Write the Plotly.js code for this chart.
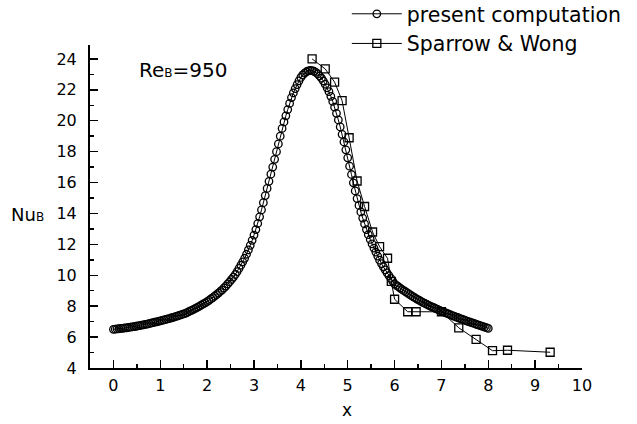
<!DOCTYPE html>
<html>
<head>
<meta charset="utf-8">
<script src="https://cdn.plot.ly/plotly-3.0.1.min.js"></script>
<style>html,body{margin:0;padding:0;background:#fff}#chart{width:637px;height:424px}</style>
</head>
<body>
<div id="chart"></div>
<script>
// present computation (circles)
var compX = [0.00,0.04,0.08,0.12,0.16,0.20,0.24,0.28,0.32,0.36,0.40,0.44,0.48,0.52,0.56,0.60,0.64,0.68,0.72,0.76,0.80,0.84,0.88,0.92,0.96,
1.00,1.04,1.08,1.12,1.16,1.20,1.24,1.28,1.32,1.36,1.40,1.44,1.48,1.52,1.56,1.60,1.64,1.68,1.72,1.76,1.80,1.84,1.88,1.92,1.96,
2.00,2.04,2.08,2.12,2.16,2.20,2.24,2.28,2.32,2.36,2.40,2.44,2.48,2.52,2.56,2.60,2.64,2.68,2.72,2.76,2.80,2.84,2.88,2.92,2.96,
3.00,3.04,3.08,3.12,3.16,3.20,3.24,3.28,3.32,3.36,3.40,3.44,3.48,3.52,3.56,3.60,3.64,3.68,3.72,3.76,3.80,3.84,3.88,3.92,3.96,
4.00,4.04,4.08,4.12,4.16,4.20,4.24,4.28,4.32,4.36,4.40,4.44,4.48,4.52,4.56,4.60,4.64,4.68,4.72,4.76,4.80,4.84,4.88,4.92,4.96,
5.00,5.04,5.08,5.12,5.16,5.20,5.24,5.28,5.32,5.36,5.40,5.44,5.48,5.52,5.56,5.60,5.64,5.68,5.72,5.76,5.80,5.84,5.88,5.92,5.96,
6.00,6.04,6.08,6.12,6.16,6.20,6.24,6.28,6.32,6.36,6.40,6.44,6.48,6.52,6.56,6.60,6.64,6.68,6.72,6.76,6.80,6.84,6.88,6.92,6.96,
7.00,7.04,7.08,7.12,7.16,7.20,7.24,7.28,7.32,7.36,7.40,7.44,7.48,7.52,7.56,7.60,7.64,7.68,7.72,7.76,7.80,7.84,7.88,7.92,7.96,
8.00];
var compNu = [6.50,6.51,6.53,6.54,6.56,6.57,6.59,6.60,6.62,6.64,6.66,6.68,6.70,6.72,6.74,6.77,6.79,6.82,6.84,6.87,6.90,6.93,6.96,6.99,7.02,
7.05,7.08,7.11,7.14,7.18,7.21,7.25,7.28,7.32,7.36,7.40,7.44,7.48,7.52,7.57,7.63,7.69,7.75,7.81,7.88,7.94,8.01,8.08,8.15,8.22,
8.30,8.38,8.47,8.56,8.65,8.75,8.85,8.95,9.06,9.18,9.30,9.44,9.58,9.73,9.88,10.05,10.24,10.44,10.65,10.87,11.10,11.36,11.64,11.94,12.26,
12.60,12.96,13.35,13.78,14.23,14.70,15.16,15.62,16.08,16.54,17.00,17.50,18.00,18.50,19.00,19.50,19.92,20.32,20.72,21.12,21.50,21.80,22.08,22.34,22.58,
22.80,22.96,23.08,23.17,23.23,23.25,23.24,23.20,23.13,23.03,22.90,22.75,22.57,22.36,22.13,21.88,21.58,21.25,20.88,20.48,20.05,19.60,19.12,18.63,18.12,
17.60,17.06,16.52,15.98,15.46,14.96,14.52,14.10,13.70,13.32,12.96,12.63,12.32,12.03,11.76,11.50,11.24,10.98,10.76,10.55,10.35,10.16,9.98,9.80,9.62,
9.45,9.35,9.26,9.17,9.08,9.00,8.92,8.84,8.76,8.68,8.60,8.53,8.46,8.39,8.32,8.25,8.19,8.13,8.07,8.01,7.95,7.90,7.84,7.79,7.73,
7.68,7.63,7.58,7.53,7.48,7.43,7.38,7.34,7.29,7.25,7.20,7.16,7.11,7.07,7.02,6.98,6.94,6.90,6.85,6.81,6.77,6.73,6.69,6.65,6.61,
6.57];

// Sparrow & Wong (squares)
var swX  = [4.24, 4.52, 4.72, 4.88, 5.03, 5.20, 5.36, 5.53, 5.68, 5.85, 5.93, 6.00, 6.28, 6.46, 7.00, 7.37, 7.74, 8.09, 8.41, 9.32];
var swNu = [24.00, 23.35, 22.50, 21.30, 18.90, 16.10, 14.45, 12.80, 11.85, 11.10, 9.60, 8.45, 7.64, 7.64, 7.64, 6.60, 5.85, 5.12, 5.15, 5.02];

var xTicks = [0,1,2,3,4,5,6,7,8,9,10];
var yTicks = [4,6,8,10,12,14,16,18,20,22,24];

var FONT = "DejaVu Sans, sans-serif";

var traces = [
  {x: compX, y: compNu, name: "present computation", type: "scatter", mode: "lines+markers",
   line: {color: "#000", width: 1},
   marker: {symbol: "circle-open", size: 7.5, color: "#000", line: {width: 1.3, color: "#000"}}},
  {x: swX, y: swNu, name: "Sparrow &amp; Wong", type: "scatter", mode: "lines+markers",
   line: {color: "#000", width: 1},
   marker: {symbol: "square-open", size: 8, color: "#000", line: {width: 1.3, color: "#000"}}}
];

var layout = {
  width: 637, height: 424,
  margin: {l: 90, r: 55, t: 45, b: 56, autoexpand: false},
  paper_bgcolor: "#fff", plot_bgcolor: "#fff",
  font: {family: FONT, color: "#000", size: 16},
  showlegend: true,
  legend: {xref: "paper", yref: "paper", x: 0.522, xanchor: "left", y: 1.158, yanchor: "top",
           bgcolor: "rgba(0,0,0,0)",
           font: {family: FONT, size: 20.5, color: "#000"}, tracegroupgap: 0, itemwidth: 50},
  xaxis: {range: [-0.5, 10], tickvals: xTicks, ticktext: xTicks.map(String), ticks: "inside", ticklen: 8,
          tickwidth: 1.5, tickcolor: "#000", showline: true, linecolor: "#000", linewidth: 2,
          showgrid: false, zeroline: false, ticklabelstandoff: 2,
          minor: {dtick: 0.5, ticks: "inside", ticklen: 4, tickwidth: 1.5, tickcolor: "#000", showgrid: false},
          tickfont: {family: FONT, size: 16}},
  yaxis: {range: [4, 24.9], tickvals: yTicks, ticktext: yTicks.map(String), ticks: "inside", ticklen: 8,
          tickwidth: 1.5, tickcolor: "#000", showline: true, linecolor: "#000", linewidth: 2,
          showgrid: false, zeroline: false, ticklabelstandoff: 8,
          minor: {dtick: 1, ticks: "inside", ticklen: 4, tickwidth: 1.5, tickcolor: "#000", showgrid: false},
          tickfont: {family: FONT, size: 16}},
  annotations: [
    {x: 0.5, y: 23.3, xref: "x", yref: "y", xanchor: "left", yanchor: "middle", showarrow: false,
     text: 'Re<span style="font-size:12px">B</span>=950', font: {family: FONT, size: 20}},
    {x: -0.165, y: 0.475, xref: "paper", yref: "paper", xanchor: "left", yanchor: "middle", showarrow: false,
     text: 'Nu<span style="font-size:12px">B</span>', font: {family: FONT, size: 18}},
    {x: 0.522, y: -0.13, xref: "paper", yref: "paper", xanchor: "center", yanchor: "middle", showarrow: false,
     text: 'x', font: {family: FONT, size: 17}}
  ]
};

Plotly.newPlot("chart", traces, layout, {staticPlot: true, displayModeBar: false});
</script>
</body>
</html>
